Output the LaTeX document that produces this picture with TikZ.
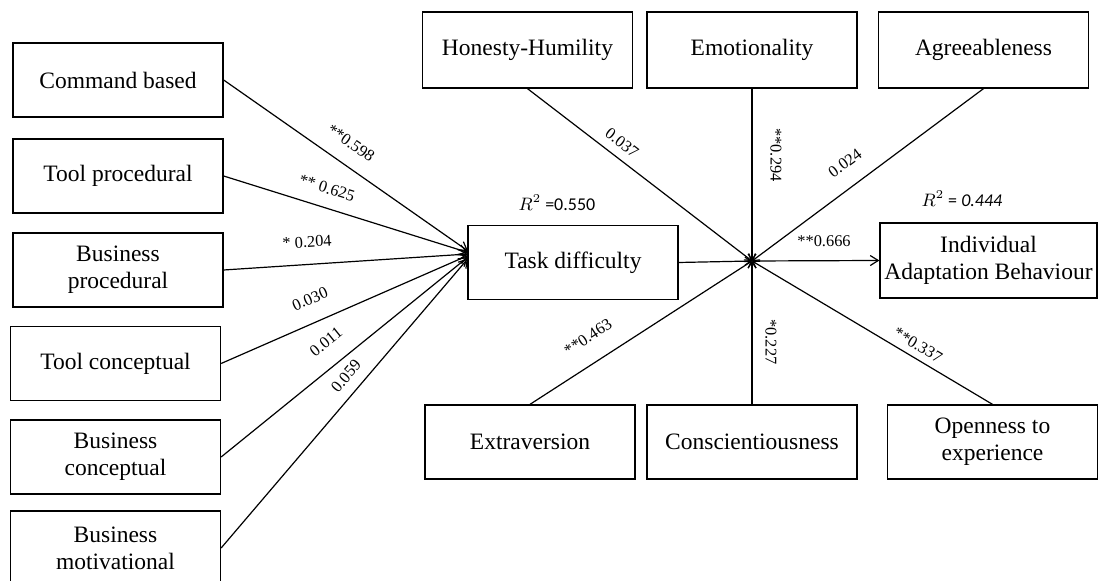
\documentclass[tikz,border=0pt]{standalone}
\usepackage{fontspec}
\setmainfont{Liberation Serif}
\newfontfamily\calibrifont{Carlito}
\usetikzlibrary{arrows.meta}
\begin{document}
\begin{tikzpicture}[x=0.5pt,y=-0.5pt,
  box/.style={draw, line width=0.65pt, rectangle, minimum width=105pt,
    minimum height=37pt, inner sep=0pt, align=center,
    font=\fontsize{11.75}{13.5}\selectfont},
  link/.style={line width=0.6pt, -{Straight Barb[length=4pt,width=5pt]}},
  modlink/.style={line width=0.6pt, -{Straight Barb[length=3pt,width=4pt]}},
  coef/.style={font=\fontsize{8.2}{10}\selectfont, inner sep=0pt},
  rsq/.style={font=\calibrifont\fontsize{9}{11}\selectfont, inner sep=0pt}]
\clip (0,0) rectangle (1098,581);

% knowledge predictors
\node[box] (cb) at (118,80) {Command based};
\node[box] (tp) at (118,176) {Tool procedural};
\node[box] (bp) at (118,270) {Business\\procedural};
\node[box] (tc) at (115.5,363.5) {Tool conceptual};
\node[box] (bc) at (115.5,457) {Business\\conceptual};
\node[box] (bm) at (115.5,548) {Business\\motivational};

% mediator and outcome
\node[box] (td) at (573,262.5) {Task difficulty};
\node[box, minimum width=108.5pt, minimum height=37.5pt] (iab) at (988.5,260.5)
  {Individual\\Adaptation Behaviour};

% personality moderators
\node[box, minimum height=38pt] (hh) at (527.5,50) {Honesty-Humility};
\node[box, minimum height=38pt] (em) at (752,50) {Emotionality};
\node[box, minimum height=38pt] (ag) at (983.5,50) {Agreeableness};
\node[box] (ex) at (530,442) {Extraversion};
\node[box] (co) at (752,442) {Conscientiousness};
\node[box] (op) at (992.5,442) {Openness to\\experience};

\coordinate (hub) at (752,261);
\coordinate (e1) at (468,251);
\coordinate (e2) at (468,252.5);
\coordinate (e3) at (468,254);
\coordinate (e4) at (468,255.5);
\coordinate (e5) at (468,257);
\coordinate (e6) at (468,258.5);

% paths into task difficulty
\draw[link] (cb.east) -- (e1);
\draw[link] (tp.east) -- (e2);
\draw[link] (bp.east) -- (e3);
\draw[link] (tc.east) -- (e4);
\draw[link] (bc.east) -- (e5);
\draw[link] (bm.east) -- (e6);

% moderated path to the outcome
\draw[modlink] (td.east) -- (hub);
\draw[modlink] (hh.south) -- (hub);
\draw[modlink] (em.south) -- (hub);
\draw[modlink] (ag.south) -- (hub);
\draw[modlink] (ex.north) -- (hub);
\draw[modlink] (co.north) -- (hub);
\draw[modlink] (op.north) -- (hub);
\draw[link] (hub) -- (iab.west);

% path coefficients
\node[coef, rotate=-34.9] at (351,143) {**0.598};
\node[coef, rotate=-17.3] at (327,188) {** 0.625};
\node[coef, rotate=3.7] at (307,242) {* 0.204};
\node[coef, rotate=23.5] at (310,299) {0.030};
\node[coef, rotate=38.9] at (326,342) {0.011};
\node[coef, rotate=49.4] at (346,376) {0.059};

\node[coef, rotate=-37.5] at (622,143) {0.037};
\node[coef, rotate=-90] at (776,155) {**0.294};
\node[coef, rotate=36.7] at (845,163) {0.024};
\node[coef] at (824,241) {**0.666};
\node[coef, rotate=33.3] at (588,337) {**0.463};
\node[coef, rotate=-90] at (771,342) {*0.227};
\node[coef, rotate=-31.2] at (918,345) {**0.337};

% explained variance
\node[rsq] at (557,203) {$R^2$ =0.550};
\node[rsq] at (962,199) {$R^2$ = {\itshape 0.444}};
\end{tikzpicture}
\end{document}
